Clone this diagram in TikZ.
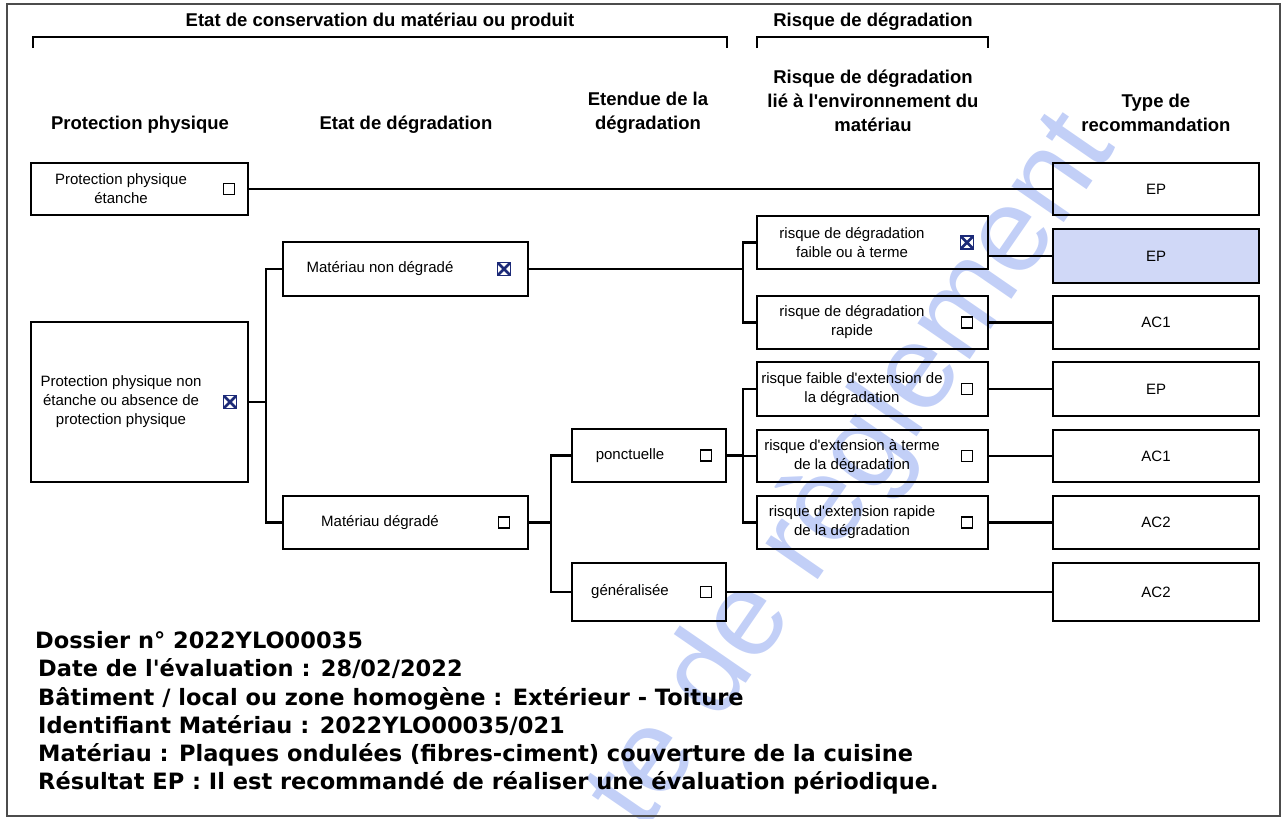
\documentclass[tikz,border=0pt]{standalone}
\usepackage{fontspec}
\setmainfont{Liberation Sans}
\newfontfamily\verd{DejaVu Sans}
\definecolor{navyx}{RGB}{28,42,120}
\definecolor{epfill}{RGB}{208,216,247}
\definecolor{wmblue}{RGB}{80,118,232}
\tikzset{
  box/.style={draw, line width=2.2pt, inner sep=0pt},
  lbl/.style={font=\fontsize{15}{19}\selectfont, align=center, inner sep=0pt},
  hdr/.style={font=\fontsize{18.5}{24}\selectfont\bfseries, align=center, inner sep=0pt},
  cb/.style={draw, line width=1.8pt, minimum size=11pt, inner sep=0pt},
  cbx/.style={draw=navyx, line width=1.8pt, minimum size=13pt, inner sep=0pt,
    path picture={\draw[navyx, line width=2.8pt] (path picture bounding box.north west) -- (path picture bounding box.south east)
      (path picture bounding box.north east) -- (path picture bounding box.south west);}},
  wire/.style={line width=2.2pt},
  foot/.style={font=\verd\bfseries\fontsize{22.5}{28}\selectfont, anchor=base west, inner sep=0pt},
  wmark/.style={text=wmblue, opacity=0.35, font=\fontsize{120}{125}\selectfont, inner sep=0pt}
}
\begin{document}
\begin{tikzpicture}[x=1pt, y=-1pt]
\useasboundingbox (0,0) rectangle (1283,819);
% watermark
\begin{scope}
\clip (0,0) rectangle (1283,819);
\node[wmark, rotate=55.4, anchor=base] (wm) at (880,490) {te de règlement};
\end{scope}
% frame
\draw[line width=1.2pt, black!70] (7,4) rectangle (1280,816);
% top brackets
\node[hdr] (t1) at (380,22) {Etat de conservation du matériau ou produit};
\node[hdr] (t2) at (873,22) {Risque de dégradation};
\draw[line width=1.6pt] (33,48) -- (33,37) -- (727,37) -- (727,48);
\draw[line width=1.6pt] (757,48) -- (757,37) -- (988,37) -- (988,48);
% column headers
\node[hdr] (h1) at (140,125) {Protection physique};
\node[hdr] (h2) at (406,125) {Etat de dégradation};
\node[hdr] (h3) at (648,113) {Etendue de la\\dégradation};
\node[hdr] (h4) at (873,101) {Risque de dégradation\\lié à l\textquotesingle environnement du\\matériau};
\node[hdr] (h5) at (1156,113) {Type de\\recommandation};
% column 1
\node[box, minimum width=217pt, minimum height=52pt] (pp1) at (139.5,189) {};
\node[lbl] (pp1t) at (121,189) {Protection physique\\étanche};
\node[cb] (pp1c) at (229,189) {};
\node[box, minimum width=217pt, minimum height=160pt] (pp2) at (139.5,402) {};
\node[lbl] (pp2t) at (121,402) {Protection physique non\\étanche ou absence de\\protection physique};
\node[cbx] (pp2c) at (230,402) {};
% column 2
\node[box, minimum width=245pt, minimum height=54pt] (mnd) at (405.5,269) {};
\node[lbl] (mndt) at (380,269) {Matériau non dégradé};
\node[cbx] (mndc) at (504,269) {};
\node[box, minimum width=245pt, minimum height=53pt] (md) at (405.5,522.5) {};
\node[lbl] (mdt) at (380,522.5) {Matériau dégradé};
\node[cb] (mdc) at (504,522.5) {};
% column 3
\node[box, minimum width=154pt, minimum height=53pt] (ponc) at (649,455.5) {};
\node[lbl] (ponct) at (630,455.5) {ponctuelle};
\node[cb] (poncc) at (706,455.5) {};
\node[box, minimum width=154pt, minimum height=58pt] (gen) at (649,592) {};
\node[lbl] (gent) at (630,592) {généralisée};
\node[cb] (genc) at (706,592) {};
% column 4
\node[box, minimum width=231pt, minimum height=53pt] (r1) at (872.5,242.5) {};
\node[lbl] (r1t) at (852,242.5) {risque de dégradation\\faible ou à terme};
\node[cbx] (r1c) at (967,242.5) {};
\node[box, minimum width=231pt, minimum height=53pt] (r2) at (872.5,322.5) {};
\node[lbl] (r2t) at (852,322.5) {risque de dégradation\\rapide};
\node[cb] (r2c) at (967,322.5) {};
\node[box, minimum width=231pt, minimum height=54pt] (r3) at (872.5,389) {};
\node[lbl] (r3t) at (852,389) {risque faible d\textquotesingle extension de\\la dégradation};
\node[cb] (r3c) at (967,389) {};
\node[box, minimum width=231pt, minimum height=52pt] (r4) at (872.5,456) {};
\node[lbl] (r4t) at (852,456) {risque d\textquotesingle extension à terme\\de la dégradation};
\node[cb] (r4c) at (967,456) {};
\node[box, minimum width=231pt, minimum height=53pt] (r5) at (872.5,522.5) {};
\node[lbl] (r5t) at (852,522.5) {risque d\textquotesingle extension rapide\\de la dégradation};
\node[cb] (r5c) at (967,522.5) {};
% column 5
\node[box, minimum width=206pt, minimum height=52pt] (e1) at (1156,189) {};
\node[lbl] (e1t) at (1156,189) {EP};
\node[box, fill=epfill, minimum width=206pt, minimum height=54pt] (e2) at (1156,256) {};
\node[lbl] (e2t) at (1156,256) {EP};
\node[box, minimum width=206pt, minimum height=53pt] (e3) at (1156,322.5) {};
\node[lbl] (e3t) at (1156,322.5) {AC1};
\node[box, minimum width=206pt, minimum height=54pt] (e4) at (1156,389) {};
\node[lbl] (e4t) at (1156,389) {EP};
\node[box, minimum width=206pt, minimum height=52pt] (e5) at (1156,456) {};
\node[lbl] (e5t) at (1156,456) {AC1};
\node[box, minimum width=206pt, minimum height=53pt] (e6) at (1156,522.5) {};
\node[lbl] (e6t) at (1156,522.5) {AC2};
\node[box, minimum width=206pt, minimum height=58pt] (e7) at (1156,592) {};
\node[lbl] (e7t) at (1156,592) {AC2};
% connectors
\draw[wire] (pp1.east) -- (e1.west);
\draw[wire] (pp2.east) -- ++(17,0) |- (mnd.west);
\draw[wire] (pp2.east) -- ++(17,0) |- (md.west);
\draw[wire] (mnd.east) -- ++(214,0) |- (r1.west);
\draw[wire] (mnd.east) -- ++(214,0) |- (r2.west);
\draw[wire] (r1.east |- e2.west) -- (e2.west);
\draw[wire] (r2.east) -- (e3.west);
\draw[wire] (r3.east) -- (e4.west);
\draw[wire] (r4.east) -- (e5.west);
\draw[wire] (r5.east) -- (e6.west);
\draw[wire] (md.east) -- ++(22,0) |- (ponc.west);
\draw[wire] (md.east) -- ++(22,0) |- (gen.west);
\draw[wire] (ponc.east) -- ++(16,0) |- (r3.west);
\draw[wire] (ponc.east) -- ++(16,0) |- (r4.west);
\draw[wire] (ponc.east) -- ++(16,0) |- (r5.west);
\draw[wire] (gen.east) -- (e7.west);
% footer text
\node[foot] (f1) at (35,648) {Dossier n° 2022YLO00035};
\node[foot] (f2) at (38,676) {Date de l\textquotesingle évaluation : 28/02/2022};
\node[foot] (f3) at (38,705) {Bâtiment / local ou zone homogène : Extérieur - Toiture};
\node[foot] (f4) at (38,733) {Identifiant Matériau : 2022YLO00035/021};
\node[foot] (f5) at (38,761) {Matériau : Plaques ondulées (fibres-ciment) couverture de la cuisine};
\node[foot] (f6) at (38,789) {Résultat EP : Il est recommandé de réaliser une évaluation périodique.};
\end{tikzpicture}
\end{document}
